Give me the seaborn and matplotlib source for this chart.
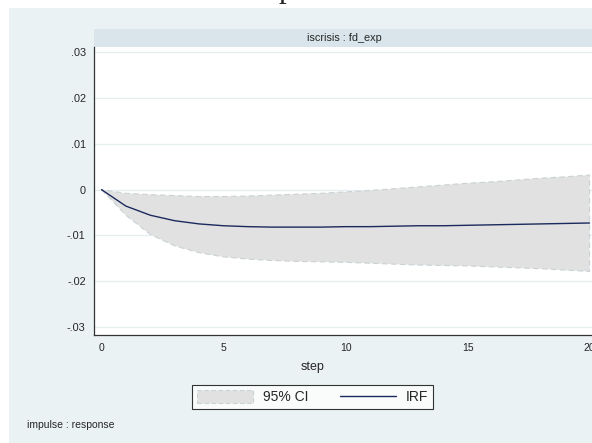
import numpy as np
import pandas as pd
import matplotlib
matplotlib.use("Agg")
import matplotlib.pyplot as plt
from matplotlib.patches import Rectangle
import seaborn as sns

# IRF of iscrisis -> fd_exp
steps = list(range(21))
irf = [0, -0.0036, -0.0056, -0.0068, -0.0075, -0.0079, -0.0081, -0.0082, -0.0082, -0.0082,
       -0.0081, -0.0081, -0.0080, -0.0079, -0.0079, -0.0078, -0.0077, -0.0076, -0.0075, -0.0074, -0.0073]
ci_upper = [0, -0.0008, -0.0011, -0.0013, -0.0015, -0.0015, -0.0014, -0.0012, -0.0010, -0.0008,
            -0.0005, -0.0002, 0.0002, 0.0006, 0.0010, 0.0014, 0.0017, 0.0021, 0.0025, 0.0028, 0.0032]
ci_lower = [0, -0.0056, -0.0098, -0.0123, -0.0138, -0.0147, -0.0152, -0.0155, -0.0157, -0.0158,
            -0.0159, -0.0161, -0.0163, -0.0165, -0.0166, -0.0167, -0.0169, -0.0171, -0.0173, -0.0176, -0.0179]
yticks = [0.03, 0.02, 0.01, 0, -0.01, -0.02, -0.03]
ytick_labels = [".03", ".02", ".01", "0", "-.01", "-.02", "-.03"]
xticks = [0, 5, 10, 15, 20]

df = pd.DataFrame({"step": steps, "irf": irf, "lo": ci_lower, "hi": ci_upper})

sns.set_style("white")
plt.rcParams["font.family"] = ["Liberation Sans", "DejaVu Sans"]

W, H = 592, 443
fig = plt.figure(figsize=(W / 100, H / 100), dpi=100)
fig.patch.set_facecolor("white")
bg = "#eaf2f3"
fig.add_artist(Rectangle((9 / W, 0), 1, 1 - 8 / H, transform=fig.transFigure,
                         facecolor=bg, edgecolor="none", zorder=0))

ax = fig.add_axes([94 / W, 1 - 335 / H, (W - 94) / W, (335 - 47) / H])
ax.set_facecolor("white")

ci = ax.fill_between(df["step"], df["lo"], df["hi"], facecolor="#e1e1e1",
                     edgecolor="#c9d2d6", linestyle=(0, (5, 3)), linewidth=0.8,
                     label="95% CI", zorder=2)
sns.lineplot(data=df, x="step", y="irf", ax=ax, color="#1b2a5c", linewidth=1.0,
             label="IRF", zorder=3)
ax.get_legend().remove()

ax.set_xlim(-0.307, 20.1)
ax.set_ylim(-0.0318, 0.0312)
ax.set_xticks(xticks)
ax.set_yticks(yticks)
ax.set_yticklabels(ytick_labels)
ax.tick_params(axis="both", which="both", direction="out", length=4.5, width=0.8,
               color="#333333", pad=1.5)
ax.tick_params(axis="y", labelsize=7.8)
ax.tick_params(axis="x", labelsize=7.5)
ax.set_xlabel("")
ax.set_ylabel("")
ax.yaxis.grid(True, color="#e6eeef", linewidth=0.9)
ax.xaxis.grid(False)
ax.set_axisbelow(True)
for side in ["top", "right"]:
    ax.spines[side].set_visible(False)
for side in ["left", "bottom"]:
    ax.spines[side].set_color("#333333")
    ax.spines[side].set_linewidth(0.9)

# title strip of the by-graph
ax.add_patch(Rectangle((0, 1), 1.02, 18 / 288, transform=ax.transAxes, clip_on=False,
                       facecolor="#d9e5ea", edgecolor="none"))
fig.text(344 / W, 1 - 38 / H, "iscrisis : fd_exp", ha="center", va="center", fontsize=7.8)

fig.text(313 / W, 1 - 367 / H, "step", ha="center", va="center", fontsize=9)
fig.text(27 / W, 1 - 425 / H, "impulse : response", ha="left", va="center", fontsize=7.5)

# cut-off title glyph at the very top
fig.text(279 / W, 1 + 3.5 / H, "p", ha="left", va="baseline", fontsize=22,
         family=["Liberation Serif", "DejaVu Serif"])

handles = [ci, ax.get_lines()[0]]
leg = fig.legend(handles, ["95% CI", "IRF"], loc="center", ncol=2,
                 bbox_to_anchor=(312.5 / W, 1 - 397 / H), fontsize=10,
                 handlelength=4.0, handleheight=1.1, handletextpad=0.7,
                 columnspacing=2.3, borderpad=0.35, fancybox=False, frameon=True)
leg.get_frame().set_edgecolor("black")
leg.get_frame().set_linewidth(0.8)
leg.get_frame().set_facecolor("white")

fig.savefig("out.png", dpi=100)
